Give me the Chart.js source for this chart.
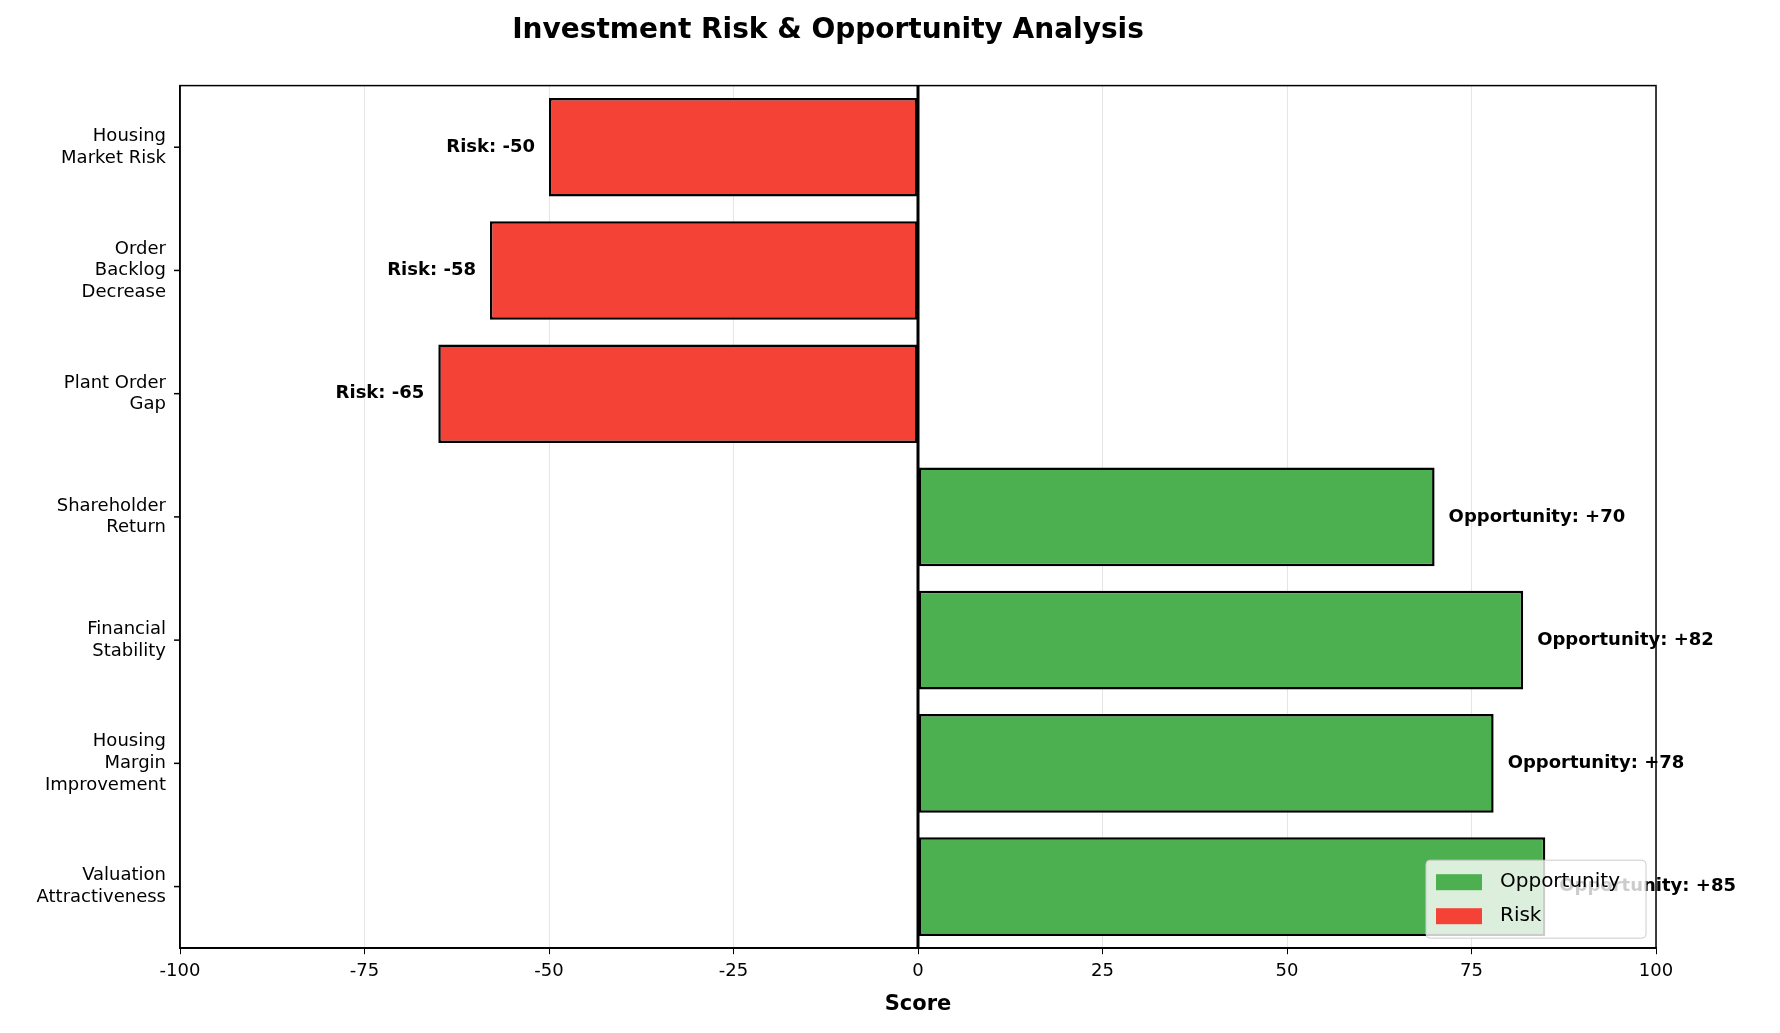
<!DOCTYPE html>
<html>
<head>
<meta charset="utf-8">
<script src="https://cdn.jsdelivr.net/npm/chart.js@4"></script>
<style>
  html, body { margin: 0; padding: 0; background: #fff; }
  #wrap { width: 1780px; height: 1033px; }
</style>
</head>
<body>
<div id="wrap"><canvas id="chart" width="1780" height="1033"></canvas></div>
<script>
const categories = [
    ['Housing', 'Market Risk'],
    ['Order', 'Backlog', 'Decrease'],
    ['Plant Order', 'Gap'],
    ['Shareholder', 'Return'],
    ['Financial', 'Stability'],
    ['Housing', 'Margin', 'Improvement'],
    ['Valuation', 'Attractiveness'],
];
const scores = [-50, -58, -65, 70, 82, 78, 85];
const xTicks = [-100, -75, -50, -25, 0, 25, 50, 75, 100];

const GREEN = '#4caf50';
const RED = '#f44336';
const FONT = 'DejaVu Sans';

const opportunity = scores.map((v) => (v >= 0 ? v : null));
const risk = scores.map((v) => (v < 0 ? v : null));

const labelPlugin = {
    id: 'barLabels',
    afterDatasetsDraw(chart) {
        const ctx = chart.ctx;
        const x = chart.scales.x;
        const y = chart.scales.y;
        ctx.save();
        ctx.font = `bold 18px "${FONT}"`;
        ctx.fillStyle = '#000';
        ctx.textBaseline = 'middle';
        scores.forEach((v, i) => {
            const py = y.getPixelForValue(i);
            if (v >= 0) {
                ctx.textAlign = 'left';
                ctx.fillText(`Opportunity: +${v}`, x.getPixelForValue(v) + 14, py);
            } else {
                ctx.textAlign = 'right';
                ctx.fillText(`Risk: ${v}`, x.getPixelForValue(v) - 14, py);
            }
        });
        const zx = x.getPixelForValue(0);
        ctx.strokeStyle = '#000';
        ctx.lineWidth = 3;
        ctx.beginPath();
        ctx.moveTo(zx, chart.chartArea.top);
        ctx.lineTo(zx, chart.chartArea.bottom);
        ctx.stroke();
        ctx.restore();
    },
    afterDraw(chart) {
        const ctx = chart.ctx;
        const area = chart.chartArea;
        const w = 220, h = 78;
        const lx = area.right - w - 10, ly = area.bottom - h - 10;
        ctx.save();
        ctx.fillStyle = 'rgba(255,255,255,0.8)';
        ctx.strokeStyle = '#cccccc';
        ctx.lineWidth = 1;
        ctx.beginPath();
        ctx.roundRect(lx, ly, w, h, 4);
        ctx.fill();
        ctx.stroke();
        ctx.font = `20px "${FONT}"`;
        ctx.textBaseline = 'middle';
        ctx.textAlign = 'left';
        [['Opportunity', GREEN], ['Risk', RED]].forEach(([name, color], k) => {
            const cy = ly + 22 + k * 34;
            ctx.fillStyle = color;
            ctx.fillRect(lx + 10, cy - 8, 46, 16);
            ctx.fillStyle = '#000';
            ctx.fillText(name, lx + 74, cy);
        });
        ctx.restore();
    },
};

new Chart(document.getElementById('chart'), {
    type: 'bar',
    data: {
        labels: categories,
        datasets: [
            {
                label: 'Opportunity',
                data: opportunity,
                backgroundColor: GREEN,
                borderColor: '#000',
                borderWidth: 2.5,
                borderSkipped: false,
                grouped: false,
                barPercentage: 0.8,
                categoryPercentage: 1,
            },
            {
                label: 'Risk',
                data: risk,
                backgroundColor: RED,
                borderColor: '#000',
                borderWidth: 2.5,
                borderSkipped: false,
                grouped: false,
                barPercentage: 0.8,
                categoryPercentage: 1,
            },
        ],
    },
    options: {
        indexAxis: 'y',
        responsive: false,
        animation: false,
        layout: { padding: { top: 0, right: 124, bottom: 12, left: 0 } },
        plugins: {
            legend: { display: false },
            tooltip: { enabled: false },
            title: {
                display: true,
                text: 'Investment Risk & Opportunity Analysis',
                color: '#000',
                font: { family: FONT, size: 28, weight: 'bold' },
                padding: { top: 14, bottom: 38 },
            },
        },
        scales: {
            x: {
                min: -100,
                max: 100,
                afterBuildTicks: (axis) => { axis.ticks = xTicks.map((v) => ({ value: v })); },
                ticks: { color: '#000', font: { family: FONT, size: 18 }, padding: 6 },
                grid: { color: 'rgba(0,0,0,0.1)', tickColor: '#000', tickLength: 6 },
                border: { color: '#000', width: 1.5 },
                title: {
                    display: true,
                    text: 'Score',
                    color: '#000',
                    font: { family: FONT, size: 21, weight: 'bold' },
                    padding: { top: 4 },
                },
            },
            y: {
                afterFit: (axis) => { axis.width = 180; },
                ticks: { color: '#000', font: { family: FONT, size: 18 }, padding: 6, lineHeight: 1.2 },
                grid: { display: false },
                border: { color: '#000', width: 1.5 },
            },
        },
    },
    plugins: [labelPlugin, {
        id: 'frame',
        afterDraw(chart) {
            const a = chart.chartArea;
            const ctx = chart.ctx;
            ctx.save();
            ctx.strokeStyle = '#000';
            ctx.lineWidth = 1.5;
            ctx.strokeRect(a.left, a.top, a.right - a.left, a.bottom - a.top);
            chart.scales.y.ticks.forEach((t, i) => {
                const py = chart.scales.y.getPixelForValue(i);
                ctx.beginPath();
                ctx.moveTo(a.left - 6, py);
                ctx.lineTo(a.left, py);
                ctx.stroke();
            });
            ctx.restore();
        },
    }],
});
</script>
</body>
</html>
